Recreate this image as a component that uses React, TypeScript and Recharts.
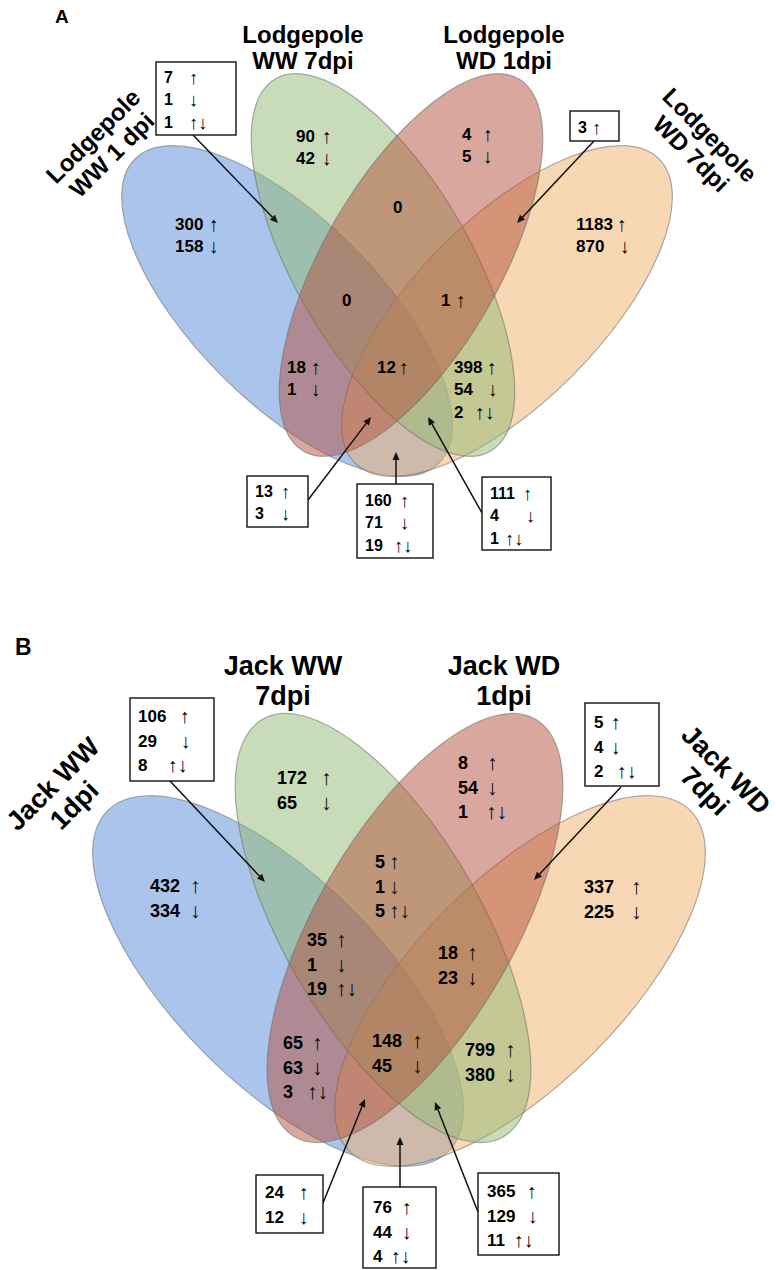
import { ScatterChart, Scatter, XAxis, YAxis } from 'recharts';

const W = 776;
const H = 1270;
const FONT = '"Liberation Sans", Arial, Helvetica, sans-serif';
const ARROWS = ['↑', '↓', '↑↓'];

// Venn regions, in the same order for every count array below
const REGIONS = ['A', 'B', 'C', 'D', 'AB', 'AC', 'AD', 'BC', 'BD', 'CD', 'ABC', 'ABD', 'ACD', 'BCD', 'ABCD'];

// Panel A: lodgepole pine
const lodgepoleSets = [['Lodgepole', 'WW 1 dpi'], ['Lodgepole', 'WW 7dpi'], ['Lodgepole', 'WD 1dpi'], ['Lodgepole', 'WD 7dpi']];
const lodgepoleUp = [300, 90, 4, 1183, 7, 18, 160, 0, 398, 3, 0, 111, 13, 1, 12];
const lodgepoleDown = [158, 42, 5, 870, 1, 1, 71, 0, 54, 0, 0, 4, 3, 0, 0];
const lodgepoleBoth = [0, 0, 0, 0, 1, 0, 19, 0, 2, 0, 0, 1, 0, 0, 0];

// Panel B: jack pine
const jackSets = [['Jack WW', '1dpi'], ['Jack WW', '7dpi'], ['Jack WD', '1dpi'], ['Jack WD', '7dpi']];
const jackUp = [432, 172, 8, 337, 106, 65, 76, 5, 799, 5, 35, 365, 24, 18, 148];
const jackDown = [334, 65, 54, 225, 29, 63, 44, 1, 380, 4, 1, 129, 12, 23, 45];
const jackBoth = [0, 0, 1, 0, 8, 3, 4, 5, 0, 2, 19, 11, 0, 0, 0];

// ---- layout (pixels) ----
const SET_FILLS = ['#5589d9', '#91b973', '#b4503c', '#efaf69'];
const DRAW_ORDER = [0, 3, 1, 2];

type Oval = { x: number; y: number; rx: number; ry: number; angle: number };
type Spot = { x: number; y: number; ax?: number[]; box?: number[]; from?: number[]; to?: number[] };
type TitleSpot = { x: number; y: number; angle: number };

const lodgepoleOvals: Oval[] = [
  { x: 287, y: 311, rx: 215, ry: 92, angle: 45 },
  { x: 383, y: 265, rx: 215, ry: 88, angle: 60 },
  { x: 411, y: 265, rx: 215, ry: 88, angle: -60 },
  { x: 507, y: 311, rx: 215, ry: 92, angle: -45 },
];
const jackOvals: Oval[] = [
  { x: 278, y: 981, rx: 241, ry: 103, angle: 45 },
  { x: 383, y: 928, rx: 241, ry: 99, angle: 60 },
  { x: 415, y: 928, rx: 241, ry: 99, angle: -60 },
  { x: 520, y: 981, rx: 241, ry: 103, angle: -45 },
];

const lodgepoleSpots: Spot[] = [
  { x: 175, y: 230, ax: [209, 209] },
  { x: 296, y: 142, ax: [322, 322] },
  { x: 462, y: 140, ax: [483, 483] },
  { x: 576, y: 230, ax: [617, 620] },
  { x: 164, y: 83, ax: [189, 189, 189], box: [156, 62, 236, 135], from: [193, 135], to: [278, 223] },
  { x: 287, y: 373, ax: [311, 311] },
  { x: 365, y: 506, ax: [400, 400, 394], box: [357, 484, 433, 558], from: [396, 484], to: [396, 452] },
  { x: 393, y: 213 },
  { x: 454, y: 373, ax: [487, 488, 475] },
  { x: 578, y: 133, ax: [592], box: [570, 111, 619, 141], from: [594, 141], to: [517, 223] },
  { x: 342, y: 306 },
  { x: 490, y: 499, ax: [523, 526, 505], box: [482, 477, 551, 550], from: [482, 513], to: [428, 417] },
  { x: 255, y: 497, ax: [281, 281], box: [247, 476, 308, 527], from: [308, 500], to: [371, 417] },
  { x: 441, y: 306, ax: [456] },
  { x: 377, y: 373, ax: [399] },
];
const jackSpots: Spot[] = [
  { x: 150, y: 892, ax: [190, 190] },
  { x: 277, y: 784, ax: [321, 321] },
  { x: 458, y: 769, ax: [487, 487, 486] },
  { x: 584, y: 893, ax: [631, 631] },
  { x: 138, y: 722, ax: [180, 181, 168], box: [130, 698, 214, 781], from: [170, 781], to: [265, 882] },
  { x: 283, y: 1049, ax: [312, 312, 307] },
  { x: 373, y: 1213, ax: [402, 402, 391], box: [363, 1187, 436, 1268], from: [400, 1187], to: [400, 1137] },
  { x: 375, y: 868, ax: [389, 389, 389] },
  { x: 465, y: 1056, ax: [505, 505] },
  { x: 594, y: 728, ax: [611, 611, 617], box: [585, 703, 659, 786], from: [621, 787], to: [534, 880] },
  { x: 307, y: 946, ax: [336, 336, 336] },
  { x: 487, y: 1197, ax: [527, 528, 514], box: [478, 1173, 559, 1255], from: [478, 1212], to: [435, 1102] },
  { x: 265, y: 1198, ax: [299, 299], box: [256, 1175, 323, 1233], from: [323, 1203], to: [365, 1099] },
  { x: 438, y: 959, ax: [467, 467] },
  { x: 372, y: 1047, ax: [412, 412] },
];

const lodgepoleTitleSpots: TitleSpot[] = [
  { x: 93, y: 136, angle: -45 },
  { x: 303, y: 34, angle: 0 },
  { x: 504, y: 34, angle: 0 },
  { x: 710, y: 135, angle: 45 },
];
const jackTitleSpots: TitleSpot[] = [
  { x: 53, y: 784, angle: -45 },
  { x: 283, y: 666, angle: 0 },
  { x: 504, y: 666, angle: 0 },
  { x: 726, y: 770, angle: 45 },
];

type Panel = {
  letter: string; letterAt: number[]; letterSize: number;
  sets: string[][]; up: number[]; down: number[]; both: number[];
  ovals: Oval[]; spots: Spot[]; titleSpots: TitleSpot[];
  titleSize: number; titleGap: number; countSize: number; boxSize: number; gap: number;
};

const panels: Panel[] = [
  {
    letter: 'A', letterAt: [55, 23], letterSize: 19,
    sets: lodgepoleSets, up: lodgepoleUp, down: lodgepoleDown, both: lodgepoleBoth,
    ovals: lodgepoleOvals, spots: lodgepoleSpots, titleSpots: lodgepoleTitleSpots,
    titleSize: 24, titleGap: 26.5, countSize: 17, boxSize: 16, gap: 22.4,
  },
  {
    letter: 'B', letterAt: [15, 655], letterSize: 23,
    sets: jackSets, up: jackUp, down: jackDown, both: jackBoth,
    ovals: jackOvals, spots: jackSpots, titleSpots: jackTitleSpots,
    titleSize: 27, titleGap: 30, countSize: 18, boxSize: 17, gap: 24.5,
  },
];

// ---- build the point tables the scatter series draw from ----
const ovalRows: any[] = [];
const countRows: any[] = [];
const calloutRows: any[] = [];
const titleRows: any[] = [];

panels.forEach((p) => {
  DRAW_ORDER.forEach((s) => {
    const o = p.ovals[s];
    ovalRows.push({ ...o, fill: SET_FILLS[s], name: p.sets[s].join(' ') });
  });
  REGIONS.forEach((region, i) => {
    const spot = p.spots[i];
    const values = [p.up[i], p.down[i], p.both[i]];
    let lines = values
      .map((v, kind) => ({ text: String(v), kind }))
      .filter((l) => Number(l.text) > 0);
    if (lines.length === 0) lines = [{ text: '0', kind: -1 }];
    const ax = spot.ax || [];
    const shaped = lines.map((l, j) => ({ ...l, adx: l.kind >= 0 ? (ax[j] ?? ax[0]) - spot.x : 0 }));
    const row = { region, x: spot.x, y: spot.y, lines: shaped, gap: p.gap };
    if (spot.box) {
      calloutRows.push({
        ...row,
        size: p.boxSize,
        box: [spot.box[0] - spot.x, spot.box[1] - spot.y, spot.box[2] - spot.box[0], spot.box[3] - spot.box[1]],
        from: [spot.from![0] - spot.x, spot.from![1] - spot.y],
        to: [spot.to![0] - spot.x, spot.to![1] - spot.y],
      });
    } else {
      countRows.push({ ...row, size: p.countSize });
    }
  });
  p.sets.forEach((lines, s) => {
    const t = p.titleSpots[s];
    titleRows.push({ x: t.x, y: t.y, angle: t.angle, lines, size: p.titleSize, gap: p.titleGap, anchor: 'middle' });
  });
  titleRows.push({ x: p.letterAt[0], y: p.letterAt[1], angle: 0, lines: [p.letter], size: p.letterSize, gap: 0, anchor: 'start', baseline: true });
});

// ---- marks ----
const OvalMark = (props: any) => {
  const { cx, cy, payload } = props;
  return (
    <ellipse
      cx={cx}
      cy={cy}
      rx={payload.rx}
      ry={payload.ry}
      transform={`rotate(${payload.angle} ${cx} ${cy})`}
      fill={payload.fill}
      fillOpacity={0.5}
      stroke="#6b6b6b"
      strokeOpacity={0.55}
      strokeWidth={1.2}
    />
  );
};

// number in bold, then the direction arrows in a plain, slightly larger face
const CountLines = ({ cx, cy, d }: { cx: number; cy: number; d: any }) => (
  <g fontFamily={FONT} fill="#000">
    {d.lines.map((l: any, j: number) => (
      <g key={j}>
        <text x={cx} y={cy + j * d.gap} fontSize={d.size} fontWeight="bold">{l.text}</text>
        {l.kind >= 0 && (
          <text x={cx + l.adx} y={cy + j * d.gap + 1} fontSize={d.size * 1.17} fontWeight="normal">
            {ARROWS[l.kind]}
          </text>
        )}
      </g>
    ))}
  </g>
);

const CountMark = (props: any) => <CountLines cx={props.cx} cy={props.cy} d={props.payload} />;

const CalloutMark = (props: any) => {
  const { cx, cy, payload: d } = props;
  const [bx, by, bw, bh] = d.box;
  const x1 = cx + d.from[0];
  const y1 = cy + d.from[1];
  const x2 = cx + d.to[0];
  const y2 = cy + d.to[1];
  const len = Math.hypot(x2 - x1, y2 - y1);
  const ux = (x2 - x1) / len;
  const uy = (y2 - y1) / len;
  const hl = 8;
  const hw = 3.5;
  const bxp = x2 - ux * hl;
  const byp = y2 - uy * hl;
  return (
    <g>
      <line x1={x1} y1={y1} x2={bxp} y2={byp} stroke="#111" strokeWidth={1.5} />
      <polygon
        points={`${x2},${y2} ${bxp - uy * hw},${byp + ux * hw} ${bxp + uy * hw},${byp - ux * hw}`}
        fill="#111"
      />
      <rect x={cx + bx} y={cy + by} width={bw} height={bh} fill="#fff" stroke="#111" strokeWidth={1.4} />
      <CountLines cx={cx} cy={cy} d={d} />
    </g>
  );
};

const TitleMark = (props: any) => {
  const { cx, cy, payload: d } = props;
  return (
    <g transform={`translate(${cx} ${cy}) rotate(${d.angle})`} fontFamily={FONT} fontWeight="bold" fill="#000">
      {d.lines.map((line: string, j: number) => (
        <text
          key={j}
          x={0}
          y={j * d.gap}
          fontSize={d.size}
          textAnchor={d.anchor}
          dominantBaseline={d.baseline ? 'alphabetic' : 'central'}
        >
          {line}
        </text>
      ))}
    </g>
  );
};

export default function App() {
  return (
    <div style={{ position: 'absolute', left: 0, top: 0, width: W, height: H, background: '#fff' }}>
      <ScatterChart width={W} height={H} margin={{ top: 0, right: 0, bottom: 0, left: 0 }}>
        <XAxis type="number" dataKey="x" domain={[0, W]} allowDataOverflow hide />
        <YAxis type="number" dataKey="y" domain={[0, H]} allowDataOverflow reversed hide width={0} />
        <Scatter name="sets" data={ovalRows} shape={OvalMark} isAnimationActive={false} />
        <Scatter name="counts" data={countRows} shape={CountMark} isAnimationActive={false} />
        <Scatter name="callouts" data={calloutRows} shape={CalloutMark} isAnimationActive={false} />
        <Scatter name="titles" data={titleRows} shape={TitleMark} isAnimationActive={false} />
      </ScatterChart>
    </div>
  );
}
